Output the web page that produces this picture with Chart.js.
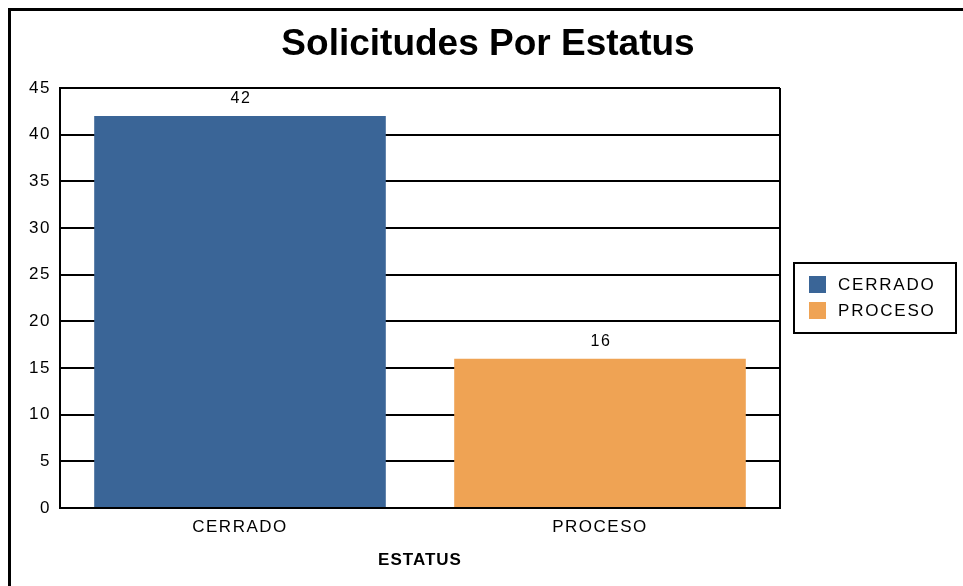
<!DOCTYPE html>
<html>
<head>
<meta charset="utf-8">
<script src="https://cdn.jsdelivr.net/npm/chart.js@4"></script>
<style>
  html, body { margin: 0; padding: 0; background: #fff; }
  #wrap { width: 963px; height: 586px; }
</style>
</head>
<body>
<div id="wrap"><canvas id="estatus-chart"></canvas></div>
<script>
const chartTitle = 'Solicitudes Por Estatus';
const axisTitle = 'ESTATUS';
const categories = ['CERRADO', 'PROCESO'];
const counts = [42, 16];
const barColors = ['#3A6597', '#EFA354'];
const yMax = 45;
const yStep = 5;

const FONT = '"Liberation Sans", Arial, sans-serif';

// outer frame, plot frame, titles, value labels and boxed legend
const decorations = {
    id: 'decorations',
    beforeDraw(chart) {
        const ctx = chart.ctx;
        ctx.save();
        ctx.fillStyle = '#fff';
        ctx.fillRect(0, 0, chart.width, chart.height);
        ctx.strokeStyle = '#000';
        ctx.lineWidth = 3;
        ctx.strokeRect(9.5, 9.5, 2000, 2000);
        ctx.restore();
        // the old renderer spaces its letters out a bit
        ctx.letterSpacing = '1.5px';
    },
    afterDatasetsDraw(chart) {
        const ctx = chart.ctx;
        const area = chart.chartArea;
        ctx.save();
        ctx.strokeStyle = '#000';
        ctx.lineWidth = 2;
        ctx.beginPath();
        ctx.moveTo(area.right, area.top);
        ctx.lineTo(area.right, area.bottom);
        ctx.stroke();

        ctx.fillStyle = '#000';
        ctx.font = '16px ' + FONT;
        ctx.letterSpacing = '1.5px';
        ctx.textAlign = 'center';
        ctx.textBaseline = 'middle';
        chart.getDatasetMeta(0).data.forEach((bar, i) => {
            ctx.fillText(String(counts[i]), bar.x + 1, bar.y - 17);
        });
        ctx.restore();
    },
    afterDraw(chart) {
        const ctx = chart.ctx;
        const area = chart.chartArea;
        ctx.save();
        ctx.fillStyle = '#000';
        ctx.textAlign = 'center';
        ctx.textBaseline = 'middle';

        ctx.letterSpacing = '0px';
        ctx.font = 'bold 37px ' + FONT;
        ctx.fillText(chartTitle, 488, 45);

        ctx.letterSpacing = '1px';
        ctx.font = 'bold 17px ' + FONT;
        ctx.fillText(axisTitle, (area.left + area.right) / 2, 560);

        // legend box
        ctx.strokeStyle = '#000';
        ctx.lineWidth = 2;
        ctx.strokeRect(794, 263, 162, 70);
        ctx.font = '17px ' + FONT;
        ctx.letterSpacing = '1.8px';
        ctx.textAlign = 'left';
        categories.forEach((name, i) => {
            const y = 276 + i * 26;
            ctx.fillStyle = barColors[i];
            ctx.fillRect(809, y, 17, 17);
            ctx.fillStyle = '#000';
            ctx.fillText(name, 838, y + 9);
        });
        ctx.restore();
    }
};

const ctx = document.getElementById('estatus-chart').getContext('2d');
const chart = new Chart(ctx, {
    type: 'bar',
    data: {
        labels: categories,
        datasets: [{
            label: axisTitle,
            data: counts,
            backgroundColor: barColors,
            borderWidth: 0,
            categoryPercentage: 1,
            barPercentage: 0.81
        }]
    },
    options: {
        responsive: true,
        maintainAspectRatio: false,
        animation: false,
        layout: {
            padding: { left: 0, top: 88, right: 183, bottom: 0 }
        },
        plugins: {
            legend: { display: false },
            title: { display: false },
            tooltip: { enabled: false }
        },
        scales: {
            x: {
                grid: { display: false, drawTicks: false },
                border: { display: true, color: '#000', width: 2 },
                ticks: {
                    color: '#000',
                    font: { family: FONT, size: 17 },
                    padding: 9
                },
                afterFit(scale) { scale.height = 78; }
            },
            y: {
                min: 0,
                max: yMax,
                grid: { color: '#000', lineWidth: 2, drawTicks: false },
                border: { display: true, color: '#000', width: 2 },
                ticks: {
                    stepSize: yStep,
                    color: '#000',
                    font: { family: FONT, size: 17 },
                    padding: 9
                },
                afterFit(scale) { scale.width = 60; }
            }
        }
    },
    plugins: [decorations]
});
</script>
</body>
</html>
